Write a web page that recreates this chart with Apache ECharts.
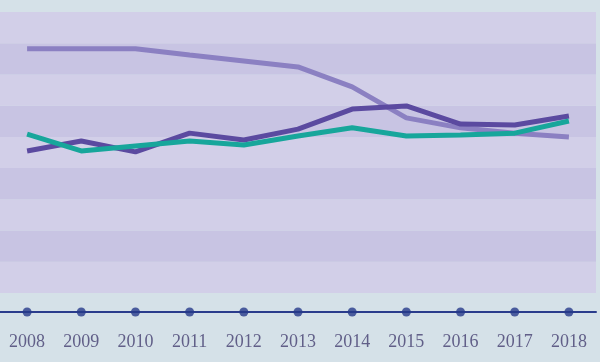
<!DOCTYPE html>
<html><head><meta charset="utf-8">
<script src="https://cdn.jsdelivr.net/npm/echarts@6/dist/echarts.min.js"></script>
<style>html,body{margin:0;padding:0;background:#d5e1e8}#c{width:600px;height:362px}</style>
</head><body><div id="c"></div>
<script>
var years = ['2008','2009','2010','2011','2012','2013','2014','2015','2016','2017','2018'];
var lightPurple = [78.2,78.2,78.2,76.2,74.3,72.4,66.0,56.1,52.9,51.2,50.0];
var darkPurple = [45.5,48.7,45.2,51.2,49.0,52.5,58.9,59.9,54.1,53.8,56.7];
var teal = [50.9,45.5,47.1,48.7,47.4,50.3,52.9,50.3,50.6,51.2,55.1];
var axisDots = [0,0,0,0,0,0,0,0,0,0,0];

var chart = echarts.init(document.getElementById('c'), null, {renderer:'canvas'});
chart.setOption({
  backgroundColor:'#d5e1e8',
  animation:false,
  grid:[
    {left:0,right:4,top:12,bottom:69},
    {left:0,right:4,top:292,bottom:50}
  ],
  xAxis:[
    {type:'category',data:years,gridIndex:0,boundaryGap:true,show:false},
    {type:'category',data:years,gridIndex:1,boundaryGap:true,
     axisLine:{lineStyle:{color:'#2a3c8c',width:2}},
     axisTick:{show:false},
     axisLabel:{color:'#615f88',fontFamily:'Liberation Serif',fontSize:18,margin:21}}
  ],
  yAxis:[
    {type:'value',gridIndex:0,min:0,max:90,interval:10,
     axisLine:{show:false},axisTick:{show:false},axisLabel:{show:false},
     splitLine:{show:false},
     splitArea:{show:true,areaStyle:{color:['#d2cfe8','#c8c4e3']}}},
    {type:'value',gridIndex:1,min:0,max:1,show:false,splitLine:{show:false}}
  ],
  series:[
    {type:'line',data:lightPurple,xAxisIndex:0,yAxisIndex:0,showSymbol:false,
     lineStyle:{color:'#8b80c2',width:5},itemStyle:{color:'#8b80c2'},z:2},
    {type:'line',data:darkPurple,xAxisIndex:0,yAxisIndex:0,showSymbol:false,
     lineStyle:{color:'#5b4aa0',width:5},itemStyle:{color:'#5b4aa0'},z:3},
    {type:'line',data:teal,xAxisIndex:0,yAxisIndex:0,showSymbol:false,
     lineStyle:{color:'#17a69b',width:5},itemStyle:{color:'#17a69b'},z:4},
    {type:'scatter',data:axisDots,xAxisIndex:1,yAxisIndex:1,symbolSize:9,
     itemStyle:{color:'#26398a'},z:5}
  ]
});
</script></body></html>
